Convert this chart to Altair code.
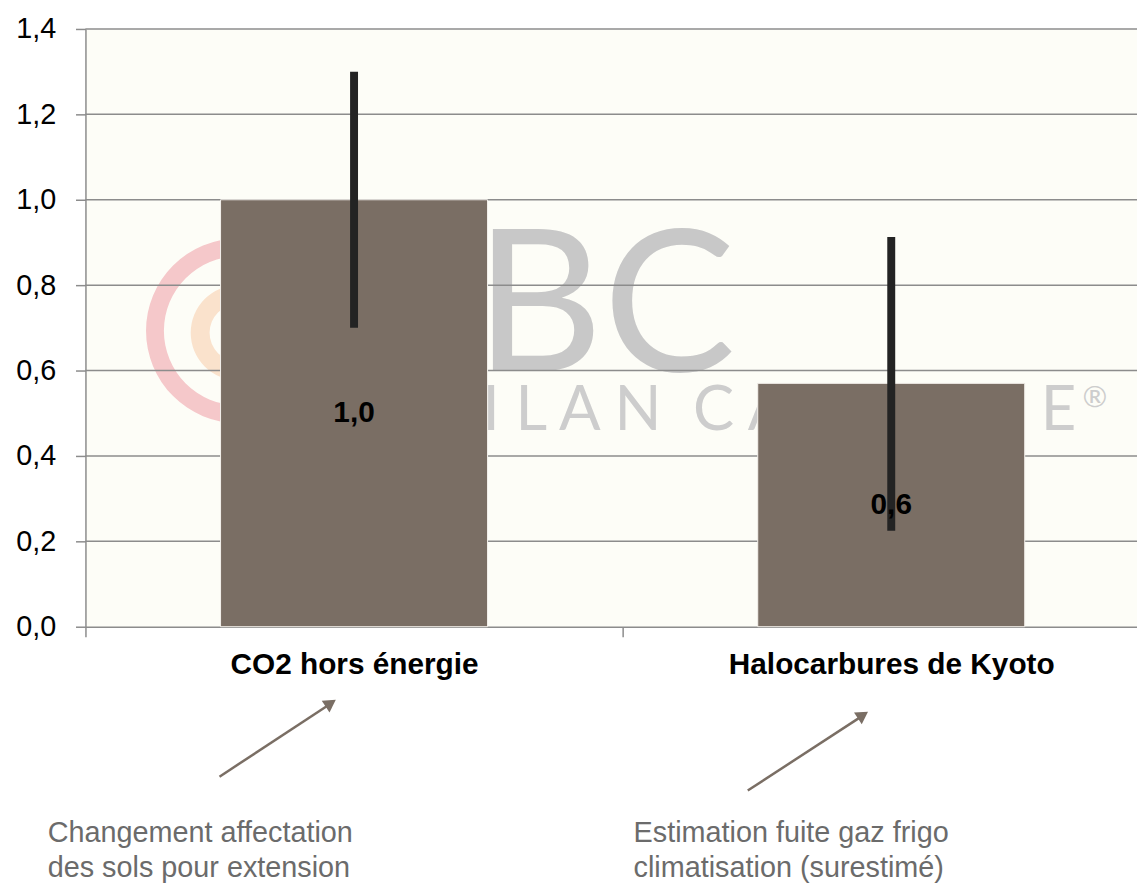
import altair as alt
import pandas as pd

# ---------------- data ----------------
categories = ["CO2 hors énergie", "Halocarbures de Kyoto"]
values = [1.0, 0.57]
err_low = [0.70, 0.225]
err_high = [1.30, 0.913]
y_ticks = [0.0, 0.2, 0.4, 0.6, 0.8, 1.0, 1.2, 1.4]
note_1 = ["Changement affectation", "des sols pour extension"]
note_2 = ["Estimation fuite gaz frigo", "climatisation (surestimé)"]
watermark_big = "BC"
watermark_small = "B I L A N\u00a0\u00a0C A R B O N E"

df = pd.DataFrame({"cat": categories, "value": values, "low": err_low, "high": err_high})
grid_df = pd.DataFrame({"y": y_ticks[1:]})
one = pd.DataFrame({"k": [0]})

FONT = "Liberation Sans"
W, H = 1059, 602
BAR = "#7A6E64"
AXIS_GREY = "#8C8C8C"

xscale = alt.Scale(domain=categories, range=[0, 1082], paddingInner=0, paddingOuter=0)
yscale = alt.Scale(domain=[0, 1.4], nice=False, zero=True)

x_axis = alt.Axis(title=None, labelAngle=0, labelFont=FONT, labelFontWeight="bold",
                  labelFontSize=30, labelColor="#000000", labelPadding=13,
                  tickSize=10, tickColor=AXIS_GREY, tickWidth=1.5, tickBand="extent",
                  domainColor=AXIS_GREY, domainWidth=1.5, labelLimit=0)
y_axis = alt.Axis(title=None, values=y_ticks, grid=False,
                  labelExpr="replace(format(datum.value, '.1f'), '.', ',')",
                  labelFont=FONT, labelFontSize=29, labelColor="#000000", labelPadding=20,
                  tickSize=10, tickColor=AXIS_GREY, tickWidth=1.5,
                  domainColor=AXIS_GREY, domainWidth=1.5)

X_ENC = alt.X("cat:N", scale=xscale, sort=categories, axis=x_axis)

base = alt.Chart(df)

# --- watermark (logo behind the bars) ---
ring_pink = alt.Chart(one).mark_arc(fill="#F5C8CA").encode(
    x=alt.value(154), y=alt.value(304),
    radius=alt.value(93), radius2=alt.value(75),
    theta=alt.value(0), theta2=alt.value(6.2832))
ring_orange = alt.Chart(one).mark_arc(fill="#FAE2CC").encode(
    x=alt.value(154), y=alt.value(306),
    radius=alt.value(48), radius2=alt.value(29),
    theta=alt.value(0), theta2=alt.value(6.2832))
wm_big = alt.Chart(one).mark_text(font="Lato", fontWeight=400, fontSize=200, align="left",
                                  baseline="alphabetic", color="#C8C8C8").encode(
    x=alt.value(392), y=alt.value(344), text=alt.value(watermark_big))
wm_small = alt.Chart(one).mark_text(font="Lato", fontWeight=400, fontSize=62, align="left",
                                    baseline="alphabetic", color="#CDCDCD").encode(
    x=alt.value(344), y=alt.value(404), text=alt.value(watermark_small))
wm_reg = alt.Chart(one).mark_text(font="Lato", fontWeight=400, fontSize=30, align="left",
                                  baseline="alphabetic", color="#CDCDCD").encode(
    x=alt.value(1004), y=alt.value(381), text=alt.value("®"))

# --- gridlines ---
grid = alt.Chart(grid_df).mark_rule(color=AXIS_GREY, strokeWidth=1.5).encode(
    y=alt.Y("y:Q", scale=yscale, axis=y_axis))

# --- bars ---
bars = base.mark_bar(color=BAR, stroke="#F4F1EC", strokeWidth=1,
                     width=alt.RelativeBandSize(0.497)).encode(
    x=X_ENC,
    y=alt.Y("value:Q", scale=yscale, axis=y_axis))

# --- error bars ---
errs = base.mark_rule(color="#232323", strokeWidth=8, strokeCap="butt").encode(
    x=X_ENC,
    y=alt.Y("low:Q", scale=yscale, axis=y_axis),
    y2="high:Q")

# --- value labels ---
labels = base.transform_calculate(
    mid="datum.value / 2",
    lab="replace(format(datum.value, '.1f'), '.', ',')"
).mark_text(font=FONT, fontWeight="bold", fontSize=30, color="#000000",
            baseline="middle", align="center").encode(
    x=X_ENC,
    y=alt.Y("mid:Q", scale=yscale, axis=y_axis),
    text="lab:N")

# --- annotations below the axis ---
ARROW = "#7A6E64"
arrow1 = alt.Chart(one).mark_rule(color=ARROW, strokeWidth=2.5).encode(
    x=alt.value(135), y=alt.value(753), x2=alt.value(246), y2=alt.value(680))
head1 = alt.Chart(one).mark_point(shape="triangle-up", filled=True, size=200, angle=56.5,
                                  color=ARROW, opacity=1).encode(
    x=alt.value(247), y=alt.value(679))
arrow2 = alt.Chart(one).mark_rule(color=ARROW, strokeWidth=2.5).encode(
    x=alt.value(667), y=alt.value(767), x2=alt.value(782), y2=alt.value(692))
head2 = alt.Chart(one).mark_point(shape="triangle-up", filled=True, size=200, angle=56.5,
                                  color=ARROW, opacity=1).encode(
    x=alt.value(783), y=alt.value(691))
txt1 = alt.Chart(one).mark_text(font=FONT, fontSize=29, lineHeight=35, color="#6B6B6B",
                                align="left", baseline="alphabetic").encode(
    x=alt.value(-38), y=alt.value(819), text=alt.value(note_1))
txt2 = alt.Chart(one).mark_text(font=FONT, fontSize=29, lineHeight=35, color="#6B6B6B",
                                align="left", baseline="alphabetic").encode(
    x=alt.value(552), y=alt.value(819), text=alt.value(note_2))

chart = alt.layer(
    ring_pink, ring_orange, wm_big, wm_small, wm_reg,
    grid, bars, errs, labels,
    arrow1, head1, arrow2, head2, txt1, txt2
).properties(
    width=W, height=H,
    padding={"left": 78, "top": 18, "right": 0, "bottom": 258},
    autosize=alt.AutoSizeParams(type="none"),
    background="#FFFFFF"
).configure_view(fill="#FDFDF7", stroke="transparent")

chart.save("out.html", embed_options={"renderer": "svg", "actions": False})
